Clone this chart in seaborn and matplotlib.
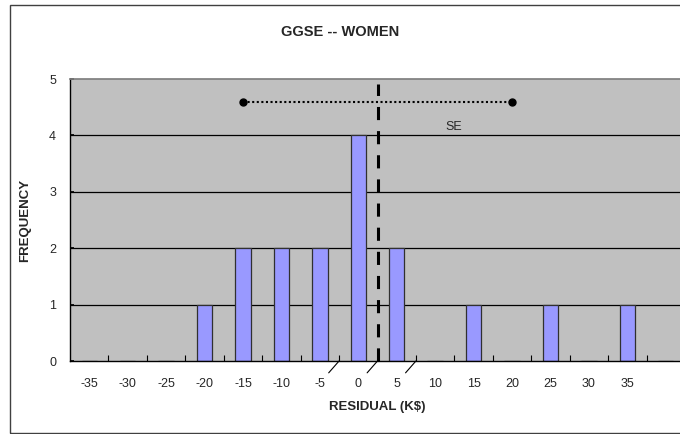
import numpy as np
import seaborn as sns
import matplotlib.pyplot as plt
from matplotlib.patches import Rectangle

# residual bins (K$) and how many fall in each; last bin has no label
bins = ["-35", "-30", "-25", "-20", "-15", "-10", "-5", "0", "5",
        "10", "15", "20", "25", "30", "35", " "]
counts = [0, 0, 0, 1, 2, 2, 2, 4, 2, 0, 1, 0, 1, 0, 1, 0]

mean_resid = 2.5          # dashed line
se_low, se_high = -15, 20  # dotted SE range
se_level = 4.6
boundary_marks = [-2.5, 2.5, 7.5]


def to_pos(v):
    # residual value -> categorical position (bins are 5 wide starting at -35)
    return (v + 35) / 5.0


sns.set_theme(style="white")
plt.rcParams['font.family'] = ['Liberation Sans', 'DejaVu Sans']

fig = plt.figure(figsize=(6.8, 4.34), dpi=100)
fig.patches.append(Rectangle((10 / 680, 1 - 433 / 434), 1.2, (433 - 5) / 434,
                             transform=fig.transFigure, fill=False,
                             edgecolor="#404040", linewidth=1.0))

ax = fig.add_axes([70 / 680, 73 / 434, 615 / 680, 282 / 434])
ax.set_facecolor("#C0C0C0")

sns.barplot(x=bins, y=counts, ax=ax, color="#9999FF", width=0.4,
            edgecolor="#303030", linewidth=0.9, saturation=1)

ax.set_xlim(-0.5, len(bins) - 0.5)
ax.set_ylim(0, 5)
ax.set_yticks(range(6))
for y in range(1, 5):
    ax.axhline(y, color="black", linewidth=0.9, zorder=0.5)

for s in ["left", "bottom"]:
    ax.spines[s].set_color("black")
    ax.spines[s].set_linewidth(1.0)
ax.spines["top"].set_color("#808080")
ax.spines["right"].set_visible(False)

ax.set_xticks(np.arange(len(bins)) + 0.5, minor=True)
ax.tick_params(axis="x", which="major", length=0, pad=12, labelsize=9)
ax.tick_params(axis="x", which="minor", direction="in", length=4,
               color="black", width=0.8, bottom=True)
ax.tick_params(axis="y", direction="in", length=3, pad=10, labelsize=9,
               left=True, color="black")

ax.set_xlabel("RESIDUAL (K$)", fontsize=9.5, fontweight="bold", labelpad=8)
ax.set_ylabel("FREQUENCY", fontsize=9.5, fontweight="bold", labelpad=13)
fig.text(0.5, 1 - 32 / 434, "GGSE -- WOMEN", ha="center", va="center",
         fontsize=10.5, fontweight="bold")

# mean line
ax.plot([to_pos(mean_resid)] * 2, [0, 4.92], color="black", linewidth=2.2,
        linestyle=(0, (4.3, 3.6)), zorder=3)

# SE range
ax.plot([to_pos(se_low), to_pos(se_high)], [se_level] * 2, color="black",
        linewidth=1.5, linestyle=(0, (1, 1.2)), zorder=3)
ax.plot([to_pos(se_low), to_pos(se_high)], [se_level] * 2, "o", color="black",
        markersize=5, zorder=4)
ax.text(9.48, 4.15, "SE", ha="center", va="center", fontsize=9)

# little leader ticks under the axis
for v in boundary_marks:
    p = to_pos(v)
    ax.plot([p, p - 0.27], [0, -0.21], color="black", linewidth=0.8,
            clip_on=False)

fig.savefig("out.png", dpi=100)
